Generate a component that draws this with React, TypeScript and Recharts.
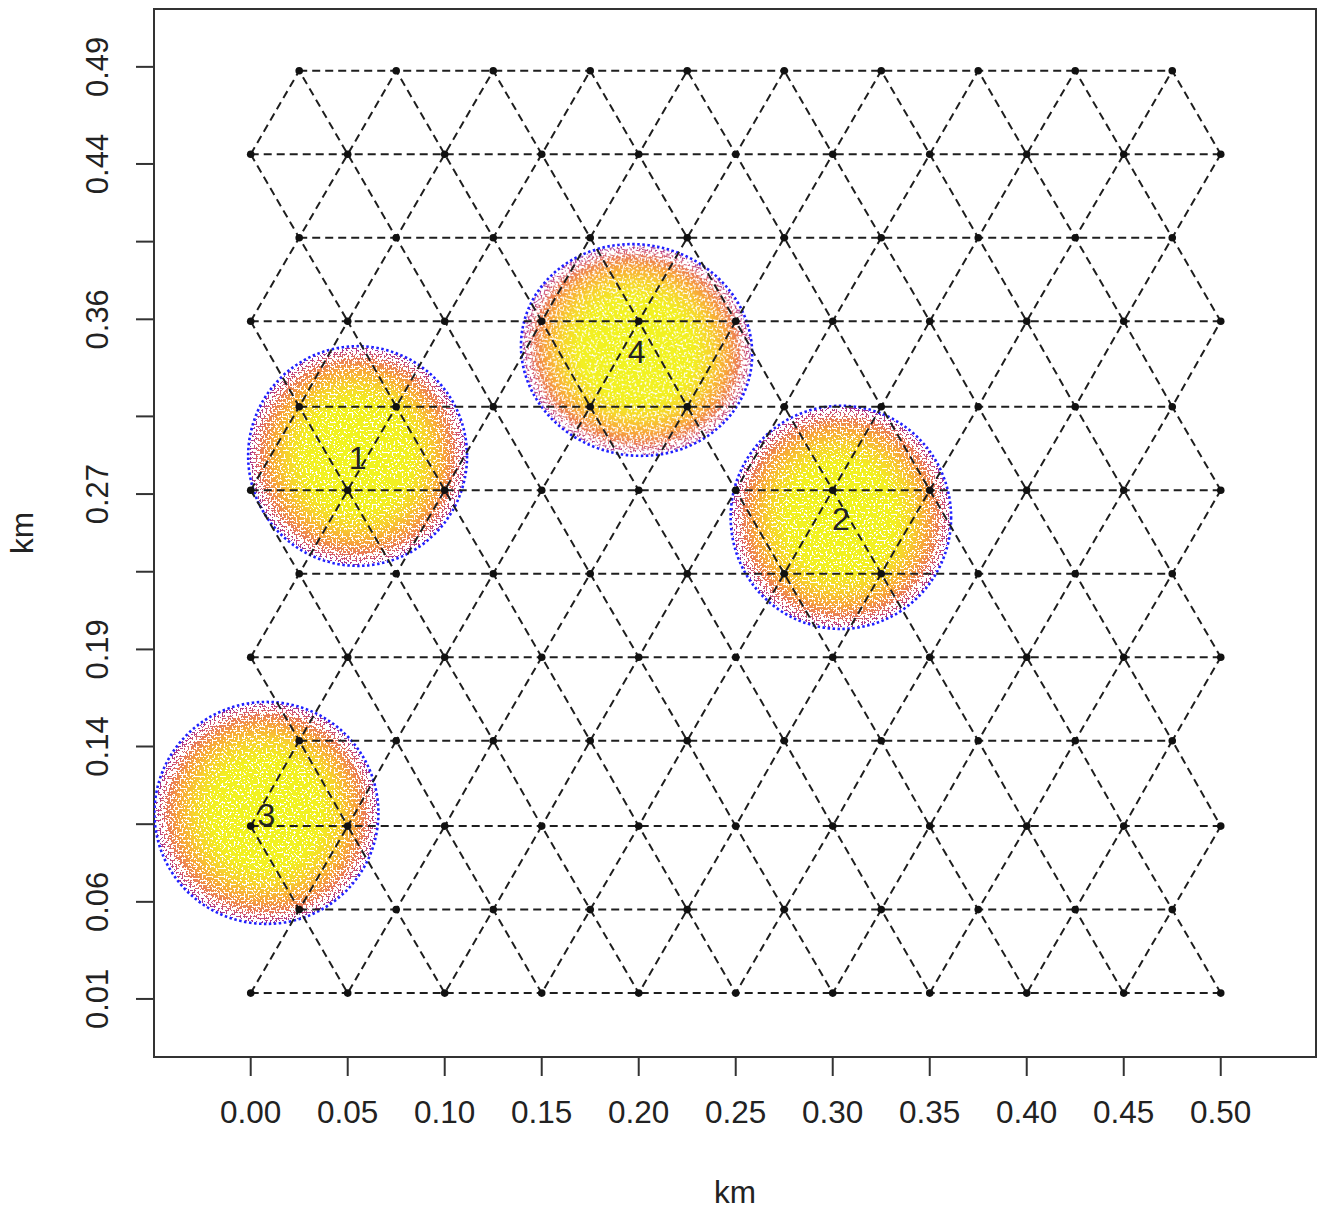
import React from "react";
import { ScatterChart, Scatter, XAxis, YAxis, ReferenceArea, Label } from "recharts";

// lattice of candidate sites, rows from bottom to top (km)
const rowY = [0.013, 0.056, 0.099, 0.143, 0.186, 0.229, 0.272, 0.315, 0.359, 0.402, 0.445, 0.488];
const xEven = [0, 0.05, 0.1, 0.15, 0.2, 0.25, 0.3, 0.35, 0.4, 0.45, 0.5];
const xOdd = [0.025, 0.075, 0.125, 0.175, 0.225, 0.275, 0.325, 0.375, 0.425, 0.475];

// axis ticks
const xTicks = [0, 0.05, 0.1, 0.15, 0.2, 0.25, 0.3, 0.35, 0.4, 0.45, 0.5];
const yTicks = [0.01, 0.06, 0.1, 0.14, 0.19, 0.23, 0.27, 0.31, 0.36, 0.4, 0.44, 0.49];
const yTickLabels = ["0.01", "0.06", "", "0.14", "0.19", "", "0.27", "", "0.36", "", "0.44", "0.49"];

// the four selected sites (centre, radius in km, tilt in degrees)
const siteId = ["1", "2", "3", "4"];
const siteX = [0.0551, 0.3042, 0.0081, 0.1989];
const siteY = [0.2896, 0.258, 0.1058, 0.3442];
const siteRx = [0.0559, 0.0563, 0.0572, 0.0593];
const siteRy = [0.0561, 0.057, 0.0567, 0.0538];
const siteTilt = [0, 0, 0, 12];

const W = 1317;
const H = 1209;
const M = { top: 9, right: 1, bottom: 0, left: 0 };
const Y_AXIS_W = 154;
const X_AXIS_H = 152;
const X_MIN = -0.04985;
const X_MAX = 0.5491;
const Y_MIN = -0.0199;
const Y_MAX = 0.5198;
const PLOT_W = W - M.left - M.right - Y_AXIS_W;
const PX_PER_KM = PLOT_W / (X_MAX - X_MIN);

const FONT = '"Liberation Sans", Arial, sans-serif';
const INK = "#222";

const rows = rowY.map((y, k) => (k % 2 === 0 ? xEven : xOdd).map((x) => ({ x, y })));
const xAll = xEven.flatMap((x, i) => (i < xOdd.length ? [x, xOdd[i]] : [x]));
const zigzags = rowY.slice(0, -1).map((y, k) =>
  xAll.map((x, i) => ({ x, y: (i % 2 === 0) === (k % 2 === 0) ? y : rowY[k + 1] }))
);
const points = rows.flat();
const sites = siteId.map((id, i) => ({
  id,
  x: siteX[i],
  y: siteY[i],
  rx: siteRx[i],
  ry: siteRy[i],
  tilt: siteTilt[i],
}));

const dashLine = { stroke: "#1e1e1e", strokeWidth: 2, strokeDasharray: "8 5" };

const NoShape = () => <g />;

const Dot = (p: any) => <circle cx={p.cx} cy={p.cy} r={3.8} fill="#111" />;

const Blob = (p: any) => {
  const { cx, cy, payload } = p;
  const rx = payload.rx * PX_PER_KM;
  const ry = payload.ry * PX_PER_KM;
  return (
    <g transform={`rotate(${payload.tilt} ${cx} ${cy})`}>
      <ellipse cx={cx} cy={cy} rx={rx} ry={ry} fill="url(#heat)" filter="url(#speckle)" />
      <ellipse
        cx={cx}
        cy={cy}
        rx={rx + 1}
        ry={ry + 1}
        fill="none"
        stroke="#1f1fff"
        strokeWidth={2.6}
        strokeDasharray="2.5 2.5"
      />
    </g>
  );
};

const SiteLabel = (p: any) => (
  <text
    x={p.cx}
    y={p.cy + 2}
    textAnchor="middle"
    dominantBaseline="central"
    fontSize={32}
    fontFamily={FONT}
    fill={INK}
  >
    {p.payload.id}
  </text>
);

const YTick = (p: any) => {
  const i = yTicks.indexOf(p.payload.value);
  const label = i >= 0 ? yTickLabels[i] : "";
  return (
    <text
      x={p.x}
      y={p.y}
      transform={`rotate(-90 ${p.x} ${p.y})`}
      textAnchor="middle"
      fontSize={31}
      fontFamily={FONT}
      fill={INK}
    >
      {label}
    </text>
  );
};

const YTitle = (p: any) => {
  const vb = p.viewBox;
  const x = vb.x + 33;
  const y = vb.y + vb.height / 2;
  return (
    <text
      x={x}
      y={y}
      transform={`rotate(-90 ${x} ${y})`}
      textAnchor="middle"
      fontSize={31.5}
      fontFamily={FONT}
      fill={INK}
    >
      km
    </text>
  );
};

export default function App() {
  return (
    <div style={{ position: "absolute", left: 0, top: 0, background: "#fff" }}>
      <ScatterChart width={W} height={H} margin={M}>
        <defs>
          <radialGradient id="heat" cx="50%" cy="50%" r="50%">
            <stop offset="0%" stopColor="#F0F520" stopOpacity={1} />
            <stop offset="50%" stopColor="#F2EF22" stopOpacity={0.97} />
            <stop offset="66%" stopColor="#F7D22E" stopOpacity={0.9} />
            <stop offset="80%" stopColor="#F7A43B" stopOpacity={0.8} />
            <stop offset="90%" stopColor="#E87858" stopOpacity={0.72} />
            <stop offset="96%" stopColor="#C74A7A" stopOpacity={0.66} />
            <stop offset="100%" stopColor="#9A2B95" stopOpacity={0.62} />
          </radialGradient>
          <filter id="speckle" x="-5%" y="-5%" width="110%" height="110%" colorInterpolationFilters="sRGB">
            <feTurbulence type="fractalNoise" baseFrequency="0.5" numOctaves={1} seed={7} result="noise" />
            <feColorMatrix
              in="noise"
              type="matrix"
              values="0 0 0 0 0  0 0 0 0 0  0 0 0 0 0  2.6 0 0 0 -0.8"
              result="na"
            />
            <feComposite in="SourceGraphic" in2="na" operator="arithmetic" k1={0} k2={1} k3={1} k4={-0.72} result="sum" />
            <feComponentTransfer in="sum" result="mask">
              <feFuncA type="discrete" tableValues="0 1" />
            </feComponentTransfer>
            <feComponentTransfer in="SourceGraphic" result="solid">
              <feFuncA type="discrete" tableValues="0 1 1 1 1 1 1 1 1 1" />
            </feComponentTransfer>
            <feComposite in="solid" in2="mask" operator="in" />
          </filter>
        </defs>
        <XAxis
          type="number"
          dataKey="x"
          domain={[X_MIN, X_MAX]}
          allowDataOverflow
          ticks={xTicks}
          interval={0}
          tickFormatter={(v: number) => v.toFixed(2)}
          axisLine={false}
          tickLine={{ stroke: "#333", strokeWidth: 2 }}
          tickSize={19}
          tickMargin={25}
          height={X_AXIS_H}
          tick={{ fill: INK, fontSize: 31.5, fontFamily: FONT }}
        >
          <Label value="km" position="insideBottom" offset={6} fill={INK} fontSize={31.5} fontFamily={FONT} />
        </XAxis>
        <YAxis
          type="number"
          dataKey="y"
          domain={[Y_MIN, Y_MAX]}
          allowDataOverflow
          ticks={yTicks}
          interval={0}
          axisLine={false}
          tickLine={{ stroke: "#333", strokeWidth: 2 }}
          tickSize={18}
          tickMargin={28}
          width={Y_AXIS_W}
          tick={YTick}
        >
          <Label content={YTitle} />
        </YAxis>
        <Scatter data={sites} shape={Blob} isAnimationActive={false} />
        {rows.map((r, k) => (
          <Scatter key={`row${k}`} data={r} shape={NoShape} line={dashLine} isAnimationActive={false} />
        ))}
        {zigzags.map((z, k) => (
          <Scatter key={`zig${k}`} data={z} shape={NoShape} line={dashLine} isAnimationActive={false} />
        ))}
        <Scatter data={points} shape={Dot} isAnimationActive={false} />
        <Scatter data={sites} shape={SiteLabel} isAnimationActive={false} />
        <ReferenceArea
          x1={X_MIN}
          x2={X_MAX}
          y1={Y_MIN}
          y2={Y_MAX}
          fill="none"
          fillOpacity={0}
          stroke="#333"
          strokeWidth={2}
          ifOverflow="visible"
        />
      </ScatterChart>
    </div>
  );
}
